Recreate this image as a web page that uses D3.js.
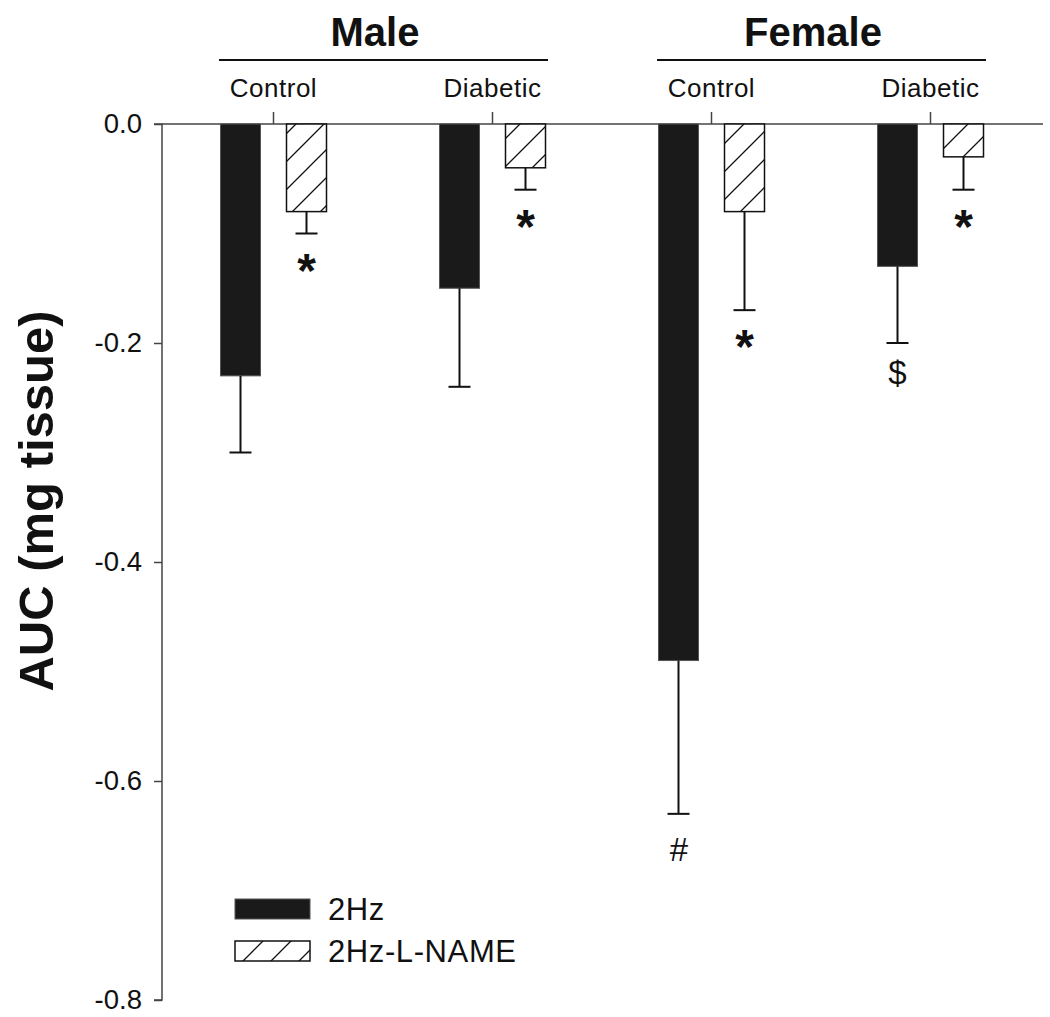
<!DOCTYPE html>
<html>
<head>
<meta charset="utf-8">
<script src="https://cdn.jsdelivr.net/npm/d3@7"></script>
<style>
  html, body { margin: 0; padding: 0; background: #fff; }
  text { font-family: "Liberation Sans", Arial, Helvetica, sans-serif; fill: #111; }
</style>
</head>
<body>
<svg id="chart" width="1050" height="1017"></svg>
<script>
// ---- data ----
const groups = ["Male", "Female"];
const conditions = ["Control", "Diabetic"];
const categories = ["Male Control", "Male Diabetic", "Female Control", "Female Diabetic"];
const series = ["2Hz", "2Hz-L-NAME"];
const values2Hz = [-0.23, -0.15, -0.49, -0.13];
const errors2Hz = [0.07, 0.09, 0.14, 0.07];
const valuesLNAME = [-0.08, -0.04, -0.08, -0.03];
const errorsLNAME = [0.02, 0.02, 0.09, 0.03];
const yTicks = [0.0, -0.2, -0.4, -0.6, -0.8];
const annotations = [
  { cat: "Male Control", s: "2Hz-L-NAME", sym: "*" },
  { cat: "Male Diabetic", s: "2Hz-L-NAME", sym: "*" },
  { cat: "Female Control", s: "2Hz", sym: "#" },
  { cat: "Female Control", s: "2Hz-L-NAME", sym: "*" },
  { cat: "Female Diabetic", s: "2Hz", sym: "$" },
  { cat: "Female Diabetic", s: "2Hz-L-NAME", sym: "*" }
];

const rows = [];
categories.forEach((c, i) => {
  rows.push({ cat: c, s: series[0], v: values2Hz[i], e: errors2Hz[i] });
  rows.push({ cat: c, s: series[1], v: valuesLNAME[i], e: errorsLNAME[i] });
});

const svg = d3.select("#chart");

// ---- hatch pattern ----
const defs = svg.append("defs");
const pat = defs.append("pattern")
  .attr("id", "hatch").attr("patternUnits", "userSpaceOnUse")
  .attr("width", 28).attr("height", 28);
pat.append("rect").attr("width", 28).attr("height", 28).attr("fill", "#fff");
pat.append("path").attr("d", "M0,28 L28,0 M-7,7 L7,-7 M21,35 L35,21")
  .attr("stroke", "#111").attr("stroke-width", 1.3);

// ---- scales ----
const axisLeft = 162, axisRight = 1043;
const x = d3.scaleBand().domain(categories).range([164, 1040]);
const xs = d3.scaleBand().domain(series).range([-53, 53]).paddingInner(0.394);
const y = d3.scaleLinear().domain([0, -0.8]).range([124, 1000]);
const cx = c => x(c) + x.bandwidth() / 2;

// ---- y axis ----
const yAxis = d3.axisLeft(y).tickValues(yTicks).tickFormat(d3.format(".1f")).tickSize(8).tickPadding(12);
const yg = svg.append("g").attr("transform", `translate(${axisLeft},0)`).call(yAxis);
yg.select(".domain").attr("stroke", "#444").attr("stroke-width", 1.5).attr("d", `M-8,${y(0)}H0V${y(-0.8)}H-8`);
yg.selectAll(".tick line").attr("stroke", "#444").attr("stroke-width", 1.5);
yg.selectAll(".tick text").attr("font-size", 27.5).attr("fill", "#111")
  .style("font-family", '"Liberation Sans", Arial, sans-serif')
  .text(d => d3.format(".1f")(d).replace("−", "-"));

// ---- top (zero) axis with category ticks ----
svg.append("line").attr("x1", axisLeft).attr("x2", axisRight)
  .attr("y1", y(0)).attr("y2", y(0)).attr("stroke", "#444").attr("stroke-width", 1.5);
svg.selectAll(".cattick").data(categories).join("line")
  .attr("x1", cx).attr("x2", cx).attr("y1", y(0)).attr("y2", y(0) - 12)
  .attr("stroke", "#444").attr("stroke-width", 1.5);
svg.selectAll(".catlabel").data(categories).join("text")
  .attr("x", cx).attr("y", 97).attr("text-anchor", "middle")
  .attr("font-size", 26).attr("letter-spacing", 0.5)
  .text((d, i) => conditions[i % 2]);

// ---- group headers ----
groups.forEach((g, gi) => {
  const c0 = cx(categories[gi * 2]), c1 = cx(categories[gi * 2 + 1]);
  const mid = (c0 + c1) / 2;
  svg.append("line").attr("x1", mid - 164).attr("x2", mid + 165)
    .attr("y1", 60).attr("y2", 60).attr("stroke", "#111").attr("stroke-width", 2);
  svg.append("text").attr("x", mid - 8).attr("y", 46).attr("text-anchor", "middle")
    .attr("font-size", 40).attr("font-weight", "bold").text(g);
});

// ---- bars ----
const barX = d => x(d.cat) + x.bandwidth() / 2 + xs(d.s);
svg.selectAll(".bar").data(rows).join("rect")
  .attr("x", barX).attr("width", xs.bandwidth())
  .attr("y", y(0)).attr("height", d => y(d.v) - y(0))
  .attr("fill", d => d.s === series[0] ? "#1a1a1a" : "url(#hatch)")
  .attr("stroke", d => d.s === series[0] ? "#555" : "#111")
  .attr("stroke-width", d => d.s === series[0] ? 1 : 1.5);

// ---- error bars (downward only) ----
const eb = svg.selectAll(".err").data(rows).join("g");
eb.append("line")
  .attr("x1", d => barX(d) + xs.bandwidth() / 2).attr("x2", d => barX(d) + xs.bandwidth() / 2)
  .attr("y1", d => y(d.v)).attr("y2", d => y(d.v - d.e))
  .attr("stroke", "#111").attr("stroke-width", 2);
eb.append("line")
  .attr("x1", d => barX(d) + xs.bandwidth() / 2 - 11).attr("x2", d => barX(d) + xs.bandwidth() / 2 + 11)
  .attr("y1", d => y(d.v - d.e)).attr("y2", d => y(d.v - d.e))
  .attr("stroke", "#111").attr("stroke-width", 2);

// ---- significance marks ----
annotations.forEach(a => {
  const r = rows.find(d => d.cat === a.cat && d.s === a.s);
  const xx = barX(r) + xs.bandwidth() / 2;
  const yEnd = y(r.v - r.e);
  const t = svg.append("text").attr("x", xx).attr("text-anchor", "middle").text(a.sym);
  if (a.sym === "*") {
    t.attr("y", yEnd + 53).attr("font-size", 48).attr("font-weight", "bold");
  } else if (a.sym === "#") {
    t.attr("y", yEnd + 47).attr("font-size", 33).attr("font-style", "italic");
  } else {
    t.attr("y", yEnd + 41).attr("font-size", 33);
  }
});

// ---- y axis title ----
svg.append("text").attr("transform", "translate(53,501) rotate(-90)")
  .attr("text-anchor", "middle").attr("font-size", 49).attr("font-weight", "bold")
  .text("AUC (mg tissue)");

// ---- legend ----
const leg = svg.append("g");
series.forEach((s, i) => {
  const yy = 899 + i * 42;
  leg.append("rect").attr("x", 235).attr("y", yy).attr("width", 75).attr("height", 20)
    .attr("fill", i === 0 ? "#1a1a1a" : "url(#hatch)")
    .attr("stroke", i === 0 ? "#555" : "#111").attr("stroke-width", i === 0 ? 1 : 1.5);
  leg.append("text").attr("x", 328).attr("y", yy + 21).attr("font-size", 31)
    .attr("letter-spacing", 0.6).text(s);
});
</script>
</body>
</html>
